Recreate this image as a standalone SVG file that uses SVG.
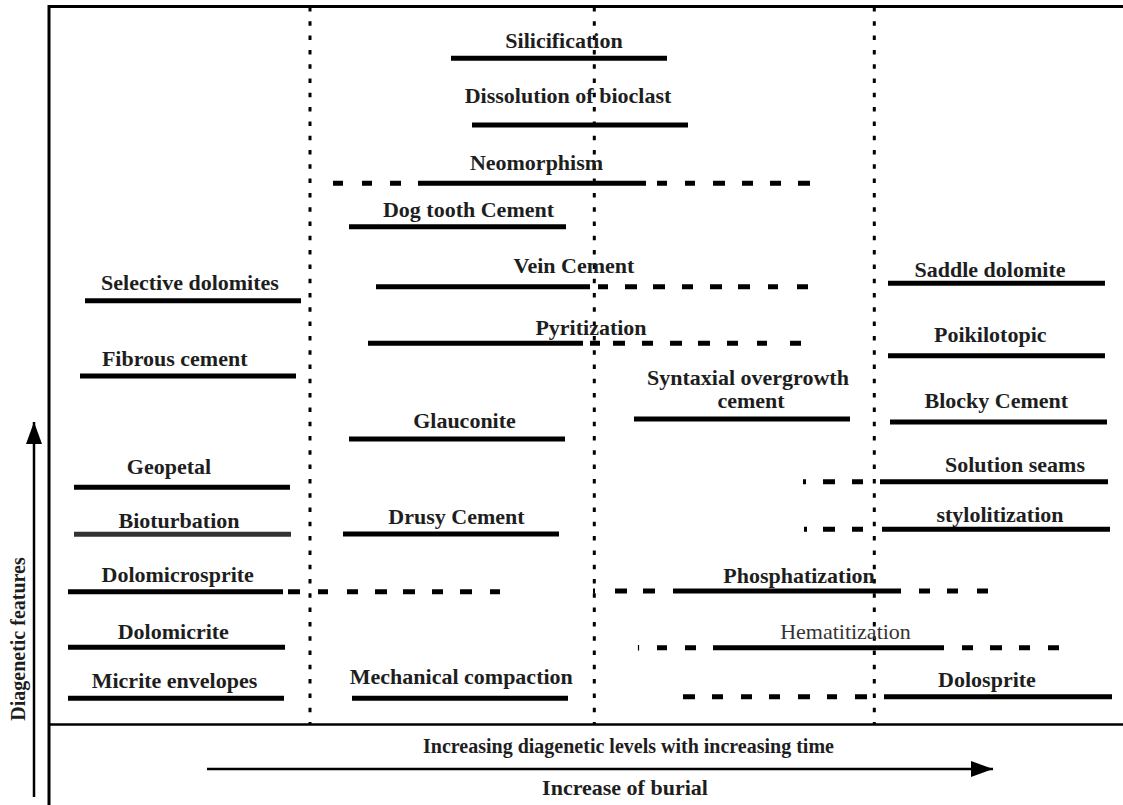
<svg xmlns="http://www.w3.org/2000/svg" width="1123" height="805" viewBox="0 0 1123 805">
<defs>
<style>
text{font-family:"Liberation Serif","Times New Roman",serif;font-weight:bold;font-size:22px;fill:#1e1e1e;text-anchor:middle}
.reg{font-weight:normal;fill:#333}
.bar{stroke:#000;stroke-width:5;fill:none}
.dot{stroke:#000;stroke-width:3;stroke-dasharray:4.5 9.8;fill:none}
.frame{stroke:#000;stroke-width:2.5;fill:none}
.axis{stroke:#000;stroke-width:2.5;fill:none}
</style>
<marker id="ah" markerUnits="userSpaceOnUse" markerWidth="24" markerHeight="18" refX="22" refY="8" orient="auto">
<path d="M0,0 L22,8 L0,16 Z" fill="#000"/>
</marker>
</defs>
<rect width="1123" height="805" fill="#fff"/>
<g id="frame">
<path class="frame" d="M49,805 V6.5 H1123" style="stroke-width:3"/>
<path class="frame" d="M49,724.5 H1123"/>
<path class="dot" d="M310,7 V724"/>
<path class="dot" d="M594.3,7 V724"/>
<path class="dot" d="M874.3,7 V724"/>
</g>
<g id="connectors">
<path class="axis" d="M34,797 V422" marker-end="url(#ah)"/>
<path class="axis" d="M207,769 H993" marker-end="url(#ah)"/>
</g>
<g id="axis-labels">
<text x="628.5" y="753" style="font-size:20px">Increasing diagenetic levels with increasing time</text>
<text x="625" y="795">Increase of burial</text>
<text transform="translate(25,639) rotate(-90)" style="font-size:20px">Diagenetic features</text>
</g>
<g id="silicification"><text x="564" y="48">Silicification</text><path class="bar" d="M451,58.3 H667"/></g>
<g id="dissolution"><text x="568" y="103">Dissolution of bioclast</text><path class="bar" d="M472,125 H688"/></g>
<g id="neomorphism"><text x="536.5" y="170">Neomorphism</text><path class="bar" d="M333,183.3 h10 M362,183.3 h10 M390,183.3 h11 M418,183.3 H646 M657,183.3 h10 M685,183.3 h10 M713,183.3 h12 M742,183.3 h11 M770,183.3 h11 M798,183.3 h12"/></g>
<g id="dogtooth"><text x="468.5" y="216.7">Dog tooth Cement</text><path class="bar" d="M349,226.7 H566"/></g>
<g id="vein"><text x="574" y="273">Vein Cement</text><path class="bar" d="M376,286.7 H590 M598,286.7 h10 M625,286.7 h12 M653,286.7 h12 M682,286.7 h11 M710,286.7 h12 M738,286.7 h12 M768,286.7 h10 M797,286.7 h11"/></g>
<g id="pyritization"><text x="591" y="335">Pyritization</text><path class="bar" d="M368,343.3 H583 M590,343.3 h10 M613,343.3 h12 M642,343.3 h11 M670,343.3 h12 M698,343.3 h12 M727,343.3 h11 M757,343.3 h10 M790,343.3 h11"/></g>
<g id="syntaxial"><text x="748" y="385">Syntaxial overgrowth</text><text x="751" y="408">cement</text><path class="bar" d="M634,419 H850"/></g>
<g id="glauconite"><text x="464.5" y="428">Glauconite</text><path class="bar" d="M349,439 H565"/></g>
<g id="drusy"><text x="456.5" y="524">Drusy Cement</text><path class="bar" d="M343,534 H559"/></g>
<g id="selective"><text x="190" y="290">Selective dolomites</text><path class="bar" d="M85,300.7 H301"/></g>
<g id="fibrous"><text x="174.7" y="366">Fibrous cement</text><path class="bar" d="M80,376 H296"/></g>
<g id="geopetal"><text x="169" y="474">Geopetal</text><path class="bar" d="M74,487.3 H290"/></g>
<g id="bioturbation"><text x="179" y="528">Bioturbation</text><path class="bar" d="M74,534.3 H291" style="stroke:#333"/></g>
<g id="dolomicrosprite"><text x="177.7" y="581.7">Dolomicrosprite</text><path class="bar" d="M68,591.7 H283 M288,591.7 h12 M318,591.7 h10 M347,591.7 h11 M375,591.7 h12 M403,591.7 h12 M432,591.7 h11 M460,591.7 h12 M490,591.7 h10"/></g>
<g id="dolomicrite"><text x="173.3" y="639">Dolomicrite</text><path class="bar" d="M68,647.3 H285"/></g>
<g id="micrite"><text x="174.5" y="688">Micrite envelopes</text><path class="bar" d="M68,698.3 H284"/></g>
<g id="mechanical"><text x="461.3" y="684">Mechanical compaction</text><path class="bar" d="M352,698.3 H568"/></g>
<g id="phosphatization"><text x="799" y="582.7">Phosphatization</text><path class="bar" d="M593,591 h2 M615,591 h12 M643,591 h12 M673,591 H901 M919,591 h11 M947,591 h11 M977,591 h11"/></g>
<g id="hematitization"><text class="reg" x="845.5" y="639">Hematitization</text><path class="bar" d="M657,647.7 h10 M685,647.7 h11 M713,647.7 H944 M962,647.7 h11 M990,647.7 h12 M1019,647.7 h11 M1048,647.7 h11"/><path d="M638.5,645 v5.5" stroke="#000" stroke-width="1.2"/></g>
<g id="dolosprite"><text x="987" y="687">Dolosprite</text><path class="bar" d="M683,696.7 h12 M712,696.7 h11 M741,696.7 h11 M769,696.7 h11 M798,696.7 h12 M827,696.7 h10 M855,696.7 h12 M884,696.7 H1112"/></g>
<g id="saddle"><text x="990" y="276.7">Saddle dolomite</text><path class="bar" d="M888,283.3 H1105"/></g>
<g id="poikilotopic"><text x="990.3" y="341.7">Poikilotopic</text><path class="bar" d="M888,355.7 H1105"/></g>
<g id="blocky"><text x="996.3" y="407.7">Blocky Cement</text><path class="bar" d="M890,422 H1107"/></g>
<g id="solution"><text x="1015" y="472.3">Solution seams</text><path class="bar" d="M803,481.7 h3 M823,481.7 h12 M852,481.7 h11 M880,481.7 H1108"/></g>
<g id="stylolitization"><text x="1000" y="521.7">stylolitization</text><path class="bar" d="M804,529.3 h3 M823,529.3 h12 M852,529.3 h11 M882,529.3 H1110"/></g>
</svg>
